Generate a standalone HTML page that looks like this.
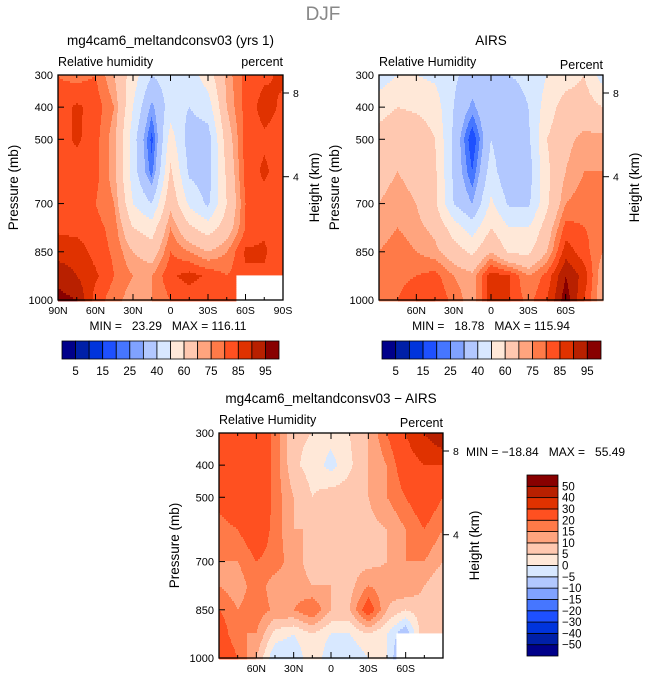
<!DOCTYPE html>
<html><head><meta charset="utf-8">
<style>
html,body{margin:0;padding:0;background:#fff;}
svg{display:block;font-family:"Liberation Sans",sans-serif;}
.pre{white-space:pre;}
</style></head>
<body>
<svg id="fig" width="647" height="682" viewBox="0 0 647 682" xmlns="http://www.w3.org/2000/svg">
<text x="323" y="20" font-size="19" fill="#888" text-anchor="middle">DJF</text>
</svg>
<script>
// ---- data ----
const lats = [90,75,60,45,30,15,0,-15,-30,-45,-60,-75,-90];
const pressures = [300,400,500,600,700,775,850,925,1000];
const modelRH = [
 [80,78,80,70,55,40,45,45,55,72,82,84,86],
 [82,86,83,75,50,28,45,40,45,70,82,87,84],
 [82,86,82,72,45,18,55,35,35,65,82,84,83],
 [82,82,82,72,45,22,62,38,35,62,82,86,82],
 [82,82,80,75,50,40,68,48,38,60,80,83,80],
 [84,83,82,78,60,55,75,62,55,65,80,84,80],
 [88,88,83,79,70,65,80,75,70,75,86,86,80],
 [93,90,86,80,75,75,84,87,84,80,84,84,80],
 [97,95,83,77,72,75,80,82,80,83,84,84,84]];
const airsRH = [
 [45,50,50,48,42,35,40,40,42,50,55,60,45],
 [55,60,58,55,40,28,40,35,40,55,65,65,60],
 [65,70,68,60,38,15,40,30,38,60,68,72,72],
 [68,70,68,62,38,20,45,30,35,58,70,75,75],
 [70,72,70,62,40,30,52,38,38,58,75,78,80],
 [72,75,72,68,55,45,60,50,50,65,82,80,78],
 [75,78,75,72,65,58,70,58,58,70,88,82,75],
 [75,78,80,82,75,72,88,85,75,82,95,88,70],
 [75,80,85,85,78,72,88,85,78,85,98,85,70]];
const diffRH = [
 [30,30,28,18,6,5,2,5,10,20,30,40,50],
 [25,28,28,18,6,3,-2,4,10,15,25,30,30],
 [22,25,28,18,10,5,8,8,10,15,20,25,20],
 [18,20,25,18,10,10,10,8,8,10,15,20,15],
 [15,15,20,18,12,8,10,8,8,10,15,15,10],
 [15,12,18,12,12,10,10,8,15,12,15,10,5],
 [20,15,18,14,15,20,10,10,25,10,5,8,5],
 [25,15,15,3,0,5,0,0,5,0,-10,10,5],
 [30,20,10,-5,-5,5,-5,-5,0,0,-15,5,5]];
const missingLat = -52, missingP = 925;
const rhLevels = [5,10,15,20,25,30,40,50,60,70,75,80,85,90,95];
const rhTickLabels = ["5","","15","","25","","40","","60","","75","","85","","95"];
const diffLevels = [-50,-40,-30,-20,-15,-10,-5,0,5,10,15,20,30,40,50];
const diffTickLabels = ["−50","−40","−30","−20","−15","−10","−5","0","5","10","15","20","30","40","50"];
const colors = ["#00008a","#0020a8","#0034dc","#1e50ff","#4676ff","#80a2ff","#b2c8ff","#d8e8ff","#ffe8d8","#ffc8b0","#ffa47e","#ff7a48","#ff5020","#e03200","#b82000","#880000"];
const pTicks = [300,400,500,700,850,1000];
const kmTicks = [8,4];
const latTicks1 = [90,60,30,0,-30,-60,-90];
const latTicks2 = [60,30,0,-30,-60];

const NS="http://www.w3.org/2000/svg";
const svg=document.getElementById('fig');
function el(tag,attrs,parent){const e=document.createElementNS(NS,tag);for(const k in attrs)e.setAttribute(k,attrs[k]);(parent||svg).appendChild(e);return e;}
function latLabel(l){return l===0?"0":(Math.abs(l)+(l>0?"N":"S"));}
function levelColor(v,levels){let i=0;while(i<levels.length&&v>=levels[i])i++;return colors[i];}
function sample(data,lat,p){
  let fi=(90-lat)/15; fi=Math.max(0,Math.min(12,fi));
  let j=0;while(j<pressures.length-2&&p>pressures[j+1])j++;
  let fj=(p-pressures[j])/(pressures[j+1]-pressures[j]);fj=Math.max(0,Math.min(1,fj));
  const i0=Math.min(11,Math.floor(fi)),t=fi-i0;
  const a=data[j][i0]*(1-t)+data[j][i0+1]*t;
  const b=data[j+1][i0]*(1-t)+data[j+1][i0+1]*t;
  return a*(1-fj)+b*fj;
}
function panel(o){
  const g=el('g',{});
  
  
  const xS=lat=>o.x0+(90-lat)/180*o.w;
  const yS=p=>o.y0+(p-300)/700*o.h;
  const field=el('g',{},g);
  
  
  const ch=2;
  for(let py=0;py<o.h;py+=ch){
    const p=300+(py+ch/2)/o.h*700;
    let runStart=0,runCol=null;
    for(let px=0;px<=o.w;px++){
      let col=null;
      if(px<o.w){
        const lat=90-(px+0.5)/o.w*180;
        if(o.mask&&lat<missingLat&&p>missingP) col="#fff";
        else col=levelColor(sample(o.data,lat,p),o.levels);
      }
      if(col!==runCol){
        if(runCol!==null&&runCol!=="#fff"){
          const r=el('rect',{x:o.x0+runStart,y:o.y0+py,width:px-runStart+0.4,height:ch+0.4,fill:runCol},field);
          
          
        }
        runStart=px;runCol=col;
      }
    }
  }
  const fr=el('rect',{x:o.x0,y:o.y0,width:o.w,height:o.h,fill:'none',stroke:'#000','stroke-width':1.3},g);
  
  
  pTicks.forEach(p=>{
    const y=yS(p);
    el('line',{x1:o.x0,x2:o.x0+6,y1:y,y2:y,stroke:'#000'},g);
    const t=el('text',{x:o.x0-5,y:y+4,'font-size':11,'text-anchor':'end'},g);
    t.textContent=p;
    
    
  });
  for(let l=90;l>=-90;l-=15){
    const x=xS(l),maj=(l%30===0);
    el('line',{x1:x,x2:x,y1:o.y0,y2:o.y0+(maj?6:3),stroke:'#000'},g);
    el('line',{x1:x,x2:x,y1:o.y0+o.h,y2:o.y0+o.h-(maj?6:3),stroke:'#000'},g);
  }
  o.latTicks.forEach(l=>{
    const t=el('text',{x:xS(l),y:o.y0+o.h+14,'font-size':10.5,'text-anchor':'middle'},g);
    t.textContent=latLabel(l);
    
    
  });
  kmTicks.forEach(z=>{
    const p=1013.25*Math.pow(1-2.25577e-5*z*1000,5.2559);
    const y=yS(p);
    el('line',{x1:o.x0+o.w,x2:o.x0+o.w+6,y1:y,y2:y,stroke:'#000'},g);
    const t=el('text',{x:o.x0+o.w+10,y:y+4,'font-size':10.5},g);
    t.textContent=z;
    
    
  });
  const yl=el('text',{transform:`translate(${o.x0-40},${o.y0+o.h/2}) rotate(-90)`,'font-size':13.5,'text-anchor':'middle'},g);
  yl.textContent="Pressure (mb)";
  
  
  const hl=el('text',{transform:`translate(${o.x0+o.w+36},${o.y0+o.h/2}) rotate(-90)`,'font-size':13.5,'text-anchor':'middle'},g);
  hl.textContent="Height (km)";
  
  
  const ti=el('text',{x:o.x0+o.w/2,y:o.y0-30,'font-size':13.5,'text-anchor':'middle'},g);
  ti.textContent=o.title;
  
  
  const lt=el('text',{x:o.x0,y:o.y0-9,'font-size':12.5},g);
  lt.textContent=o.left;
  
  
  const rt=el('text',{x:o.x0+o.w,y:o.y0-(o.rOff||9),'font-size':12.5,'text-anchor':'end'},g);
  rt.textContent=o.right;
  
  
  const mm=el('text',{x:o.mmX,y:o.mmY,'font-size':12,'text-anchor':o.mmA||'middle','class':'pre'},g);
  mm.textContent=o.mm;
  
  
}
function hbar(x0,y0,w,h,name){
  const g=el('g',{});
  
  
  const bw=w/colors.length;
  colors.forEach((c,i)=>{
    const r=el('rect',{x:x0+i*bw,y:y0,width:bw,height:h,fill:c,stroke:'#000','stroke-width':0.8},g);
    
    
  });
  rhTickLabels.forEach((s,i)=>{
    if(!s)return;
    const t=el('text',{x:x0+(i+1)*bw,y:y0+h+16,'font-size':11.5,'text-anchor':'middle'},g);
    t.textContent=s;
    
    
  });
}
function vbar(x0,y0,w,h){
  const g=el('g',{});
  
  
  const bh=h/colors.length;
  colors.forEach((c,i)=>{
    const r=el('rect',{x:x0,y:y0+(colors.length-1-i)*bh,width:w,height:bh,fill:c,stroke:'#000','stroke-width':0.8},g);
    
    
  });
  diffTickLabels.forEach((s,i)=>{
    const t=el('text',{x:x0+w+4,y:y0+(colors.length-1-i)*bh+4,'font-size':11.5},g);
    t.textContent=s;
    
    
  });
}
panel({name:'model-panel',x0:58,y0:75,w:225,h:225,data:modelRH,levels:rhLevels,mask:true,latTicks:latTicks1,
  title:'mg4cam6_meltandconsv03 (yrs 1)',left:'Relative humidity',right:'percent',mm:'MIN =   23.29   MAX = 116.11',mmX:168,mmY:330});
panel({name:'airs-panel',x0:379,y0:75,w:224,h:225,data:airsRH,levels:rhLevels,mask:false,latTicks:latTicks2,
  title:'AIRS',left:'Relative Humidity',right:'Percent',rOff:6,mm:'MIN =   18.78   MAX = 115.94',mmX:491,mmY:330});
panel({name:'difference-panel',x0:219,y0:433,w:224,h:225,data:diffRH,levels:diffLevels,mask:true,latTicks:latTicks2,
  title:'mg4cam6_meltandconsv03 − AIRS',left:'Relative Humidity',right:'Percent',rOff:6,mm:'MIN = −18.84   MAX =   55.49',mmX:466,mmY:456,mmA:'start'});
hbar(62,341,217,18,'model-colorbar');
hbar(382,341,219,18,'airs-colorbar');
vbar(527,475,31,181);
</script>
</body></html>
